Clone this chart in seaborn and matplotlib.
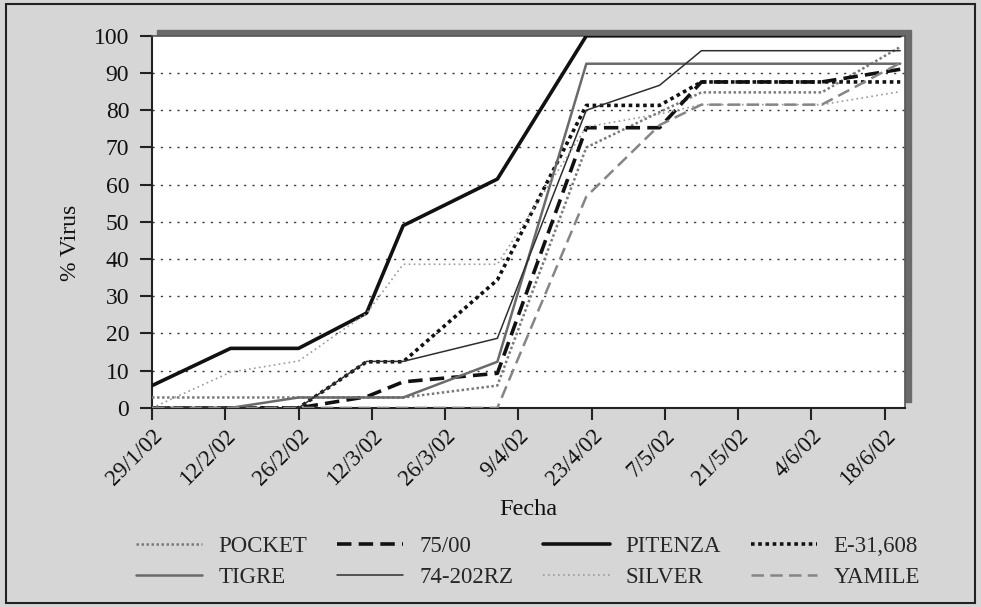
import matplotlib
matplotlib.use("Agg")
import pandas as pd
import seaborn as sns
import matplotlib.pyplot as plt
from matplotlib.lines import Line2D
from matplotlib.patches import Rectangle

# Fechas de muestreo
fechas = ["2002-01-29", "2002-02-13", "2002-02-26", "2002-03-11", "2002-03-18",
          "2002-04-05", "2002-04-22", "2002-05-06", "2002-05-14", "2002-06-06",
          "2002-06-21"]

# % de plantas con virus por variedad
pocket = [2.8, 2.8, 2.8, 2.8, 2.8, 6.0, 70.0, 79.5, 84.8, 84.8, 97.0]
v75_00 = [0, 0, 0, 3.0, 7.0, 9.3, 75.3, 75.3, 87.6, 87.6, 91.0]
pitenza = [6.0, 16.0, 16.0, 25.5, 49.0, 61.5, 100, 100, 100, 100, 100]
e31608 = [0, 0, 0, 12.4, 12.4, 34.4, 81.3, 81.3, 87.6, 87.6, 87.6]
tigre = [0, 0, 2.8, 2.8, 2.8, 12.4, 92.5, 92.5, 92.5, 92.5, 92.5]
v74_202rz = [0, 0, 0, 12.5, 12.5, 18.7, 80.0, 86.7, 96.0, 96.0, 96.0]
silver = [0, 9.6, 12.6, 25.4, 38.6, 38.6, 75.5, 79.0, 81.5, 81.5, 85.0]
yamile = [0, 0, 0, 0, 0, 0, 56.8, 76.0, 81.5, 81.5, 92.7]

variedades = ["POCKET", "75/00", "PITENZA", "E-31,608",
              "TIGRE", "74-202RZ", "SILVER", "YAMILE"]
series = [pocket, v75_00, pitenza, e31608, tigre, v74_202rz, silver, yamile]

tick_fechas = ["2002-01-29", "2002-02-12", "2002-02-26", "2002-03-12", "2002-03-26",
               "2002-04-09", "2002-04-23", "2002-05-07", "2002-05-21", "2002-06-04",
               "2002-06-18"]
tick_labels = ["29/1/02", "12/2/02", "26/2/02", "12/3/02", "26/3/02", "9/4/02",
               "23/4/02", "7/5/02", "21/5/02", "4/6/02", "18/6/02"]

# Estilos de linea
colores = {"POCKET": "#7a7a7a", "75/00": "#111111", "PITENZA": "#111111",
           "E-31,608": "#111111", "TIGRE": "#6a6a6a", "74-202RZ": "#2e2e2e",
           "SILVER": "#9a9a9a", "YAMILE": "#858585"}
grosores = {"POCKET": 1.8, "75/00": 2.6, "PITENZA": 2.6, "E-31,608": 2.6,
            "TIGRE": 1.8, "74-202RZ": 1.1, "SILVER": 1.2, "YAMILE": 1.8}
trazos = {"POCKET": (1, 1), "75/00": (4, 2), "PITENZA": "", "E-31,608": (1, 1),
          "TIGRE": "", "74-202RZ": "", "SILVER": (1, 2), "YAMILE": (5, 2.5)}

df = pd.concat([pd.DataFrame({"Fecha": pd.to_datetime(fechas), "Virus": vals, "Variedad": name})
                for name, vals in zip(variedades, series)], ignore_index=True)

sns.set_theme(style="white")
plt.rcParams["font.family"] = ["Liberation Serif", "DejaVu Serif"]

fondo = "#d6d6d6"
fig = plt.figure(figsize=(9.81, 6.07), dpi=100, facecolor=fondo)
ax = fig.add_axes([0.155, 0.328, 0.768, 0.613])
ax.set_facecolor("white")

# sombra del area de grafico
fig.patches.append(Rectangle((0.155 + 0.0055, 0.328 + 0.0095), 0.768, 0.613,
                             transform=fig.transFigure, color="#6a6a6a", zorder=-1))
# marco de la figura
fig.patches.append(Rectangle((0.006, 0.006), 0.988, 0.988, transform=fig.transFigure,
                             fill=False, edgecolor="#222222", linewidth=1.5, zorder=-2))

for y in range(10, 100, 10):
    ax.axhline(y, color="#333333", linewidth=1.0, linestyle=(0, (1.5, 4.5)), zorder=0)

sns.lineplot(data=df, x="Fecha", y="Virus", hue="Variedad", style="Variedad",
             size="Variedad", palette=colores, dashes=trazos, sizes=grosores,
             hue_order=variedades, style_order=variedades, size_order=variedades,
             legend=False, ax=ax, zorder=3)

ax.set_xlim(pd.Timestamp("2002-01-29"), pd.Timestamp("2002-06-22"))
ax.set_ylim(0, 100)
ax.set_yticks(range(0, 101, 10))
ax.set_xticks(pd.to_datetime(tick_fechas))
ax.set_xticklabels(tick_labels, rotation=45, ha="right", rotation_mode="anchor")
ax.tick_params(axis="both", which="major", direction="out", length=8.5, width=1.5,
               color="#222222", labelcolor="#111111", bottom=True, left=True)
ax.tick_params(axis="y", labelsize=17, pad=8)
ax.tick_params(axis="x", labelsize=16.5, pad=4)

for s in ["left", "bottom"]:
    ax.spines[s].set_color("#222222")
    ax.spines[s].set_linewidth(1.5)
for s in ["top", "right"]:
    ax.spines[s].set_color("#555555")
    ax.spines[s].set_linewidth(1.2)

ax.set_xlabel("Fecha", fontsize=17.5, color="#111111")
ax.set_ylabel("% Virus", fontsize=17, color="#111111")
ax.xaxis.set_label_coords(0.5, -0.245)
ax.yaxis.set_label_coords(-0.094, 0.444)

orden = ["POCKET", "TIGRE", "75/00", "74-202RZ", "PITENZA", "SILVER", "E-31,608", "YAMILE"]
handles = []
for name in orden:
    ls = "-" if trazos[name] == "" else (0, trazos[name])
    handles.append(Line2D([0], [0], color=colores[name], linewidth=grosores[name], linestyle=ls))
fig.legend(handles, orden, ncol=4, loc="center", bbox_to_anchor=(0.538, 0.074),
           frameon=False, fontsize=16.5, handlelength=2.9, handletextpad=0.7,
           columnspacing=1.3, labelspacing=0.45, borderpad=0.2)

fig.savefig("out.png", dpi=100, facecolor=fondo)
